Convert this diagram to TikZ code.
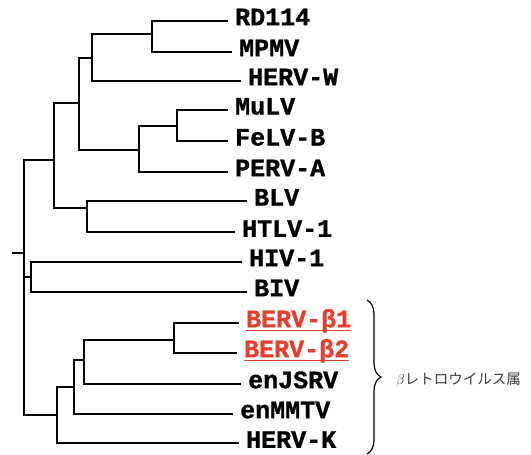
\documentclass[tikz,border=0pt]{standalone}
\usepackage{fontspec}
\setmonofont[BoldFeatures={FakeBold=1.2}]{Liberation Mono}
\newfontfamily\cjk{Noto Sans CJK JP}
\usetikzlibrary{decorations.pathreplacing}
\definecolor{berv}{RGB}{228,62,44}
\definecolor{grp}{RGB}{60,60,60}
\begin{document}
\begin{tikzpicture}[x=1pt,y=-1pt,
  branch/.style={line width=1.9pt, line join=miter},
  taxon/.style={anchor=base west, inner sep=0pt, font=\fontsize{25}{30}\selectfont\ttfamily\bfseries},
  hl/.style={taxon, text=berv},
  uline/.style={draw=berv, line width=1.4pt}]
\useasboundingbox (0,0) rectangle (531,455);
% leaves (end of branch)
\coordinate (l1) at (228,20.7);
\coordinate (l2) at (232,51.7);
\coordinate (l3) at (241,80.7);
\coordinate (l4) at (228,110);
\coordinate (l5) at (228,141);
\coordinate (l6) at (228,171.7);
\coordinate (l7) at (247,201);
\coordinate (l8) at (235,232.3);
\coordinate (l9) at (242,261.7);
\coordinate (l10) at (247,291.7);
\coordinate (l11) at (239,322.7);
\coordinate (l12) at (237,352.7);
\coordinate (l13) at (241,383.7);
\coordinate (l14) at (233,413.7);
\coordinate (l15) at (239,443.3);
% internal nodes
\coordinate (n1) at (152.3,34);
\coordinate (n2) at (91.7,58.3);
\coordinate (n3) at (177,126.3);
\coordinate (n4) at (139.3,150);
\coordinate (n5) at (79,103.3);
\coordinate (n6) at (87.3,208.3);
\coordinate (n7) at (54.3,160);
\coordinate (n8) at (30.7,277.3);
\coordinate (n9) at (174.3,340);
\coordinate (n10) at (84.3,360);
\coordinate (n11) at (73.7,386.7);
\coordinate (n12) at (57.3,415);
\coordinate (root) at (24,253.3);
\coordinate (stub) at (11.7,253.3);
% branches
\draw[branch] (n1) |- (l1);
\draw[branch] (n1) |- (l2);
\draw[branch] (n2) |- (n1);
\draw[branch] (n2) |- (l3);
\draw[branch] (n3) |- (l4);
\draw[branch] (n3) |- (l5);
\draw[branch] (n4) |- (n3);
\draw[branch] (n4) |- (l6);
\draw[branch] (n5) |- (n2);
\draw[branch] (n5) |- (n4);
\draw[branch] (n6) |- (l7);
\draw[branch] (n6) |- (l8);
\draw[branch] (n7) |- (n5);
\draw[branch] (n7) |- (n6);
\draw[branch] (n8) |- (l9);
\draw[branch] (n8) |- (l10);
\draw[branch] (n9) |- (l11);
\draw[branch] (n9) |- (l12);
\draw[branch] (n10) |- (n9);
\draw[branch] (n10) |- (l13);
\draw[branch] (n11) |- (n10);
\draw[branch] (n11) |- (l14);
\draw[branch] (n12) |- (n11);
\draw[branch] (n12) |- (l15);
\draw[branch] (root) |- (n7);
\draw[branch] (root) |- (n8);
\draw[branch] (root) |- (n12);
\draw[branch] (stub) -- (root);
% labels
\node[taxon] (t1) at ([xshift=7pt,yshift=-4.5pt]l1) {RD114};
\node[taxon] (t2) at ([xshift=7pt,yshift=-4.5pt]l2) {MPMV};
\node[taxon] (t3) at ([xshift=7pt,yshift=-4.5pt]l3) {HERV-W};
\node[taxon] (t4) at ([xshift=7pt,yshift=-4.5pt]l4) {MuLV};
\node[taxon] (t5) at ([xshift=7pt,yshift=-4.5pt]l5) {FeLV-B};
\node[taxon] (t6) at ([xshift=7pt,yshift=-4.5pt]l6) {PERV-A};
\node[taxon] (t7) at ([xshift=7pt,yshift=-4.5pt]l7) {BLV};
\node[taxon] (t8) at ([xshift=7pt,yshift=-4.5pt]l8) {HTLV-1};
\node[taxon] (t9) at ([xshift=7pt,yshift=-4.5pt]l9) {HIV-1};
\node[taxon] (t10) at ([xshift=7pt,yshift=-4.5pt]l10) {BIV};
\node[hl] (t11) at ([xshift=7pt,yshift=-4.5pt]l11) {BERV-β1};
\node[hl] (t12) at ([xshift=7pt,yshift=-4.5pt]l12) {BERV-β2};
\node[taxon] (t13) at ([xshift=7pt,yshift=-4.5pt]l13) {enJSRV};
\node[taxon] (t14) at ([xshift=7pt,yshift=-4.5pt]l14) {enMMTV};
\node[taxon] (t15) at ([xshift=7pt,yshift=-4.5pt]l15) {HERV-K};
\draw[uline] ([yshift=-3pt]t11.base west) -- ([yshift=-3pt]t11.base east);
\draw[uline] ([yshift=-3pt]t12.base west) -- ([yshift=-3pt]t12.base east);
% brace and group label
\coordinate (bt) at (367,300);
\coordinate (bb) at (367,454);
\draw[line width=1.2pt, decorate, decoration={brace, amplitude=14pt}] (bt) -- (bb);
\node[anchor=west, inner sep=0pt, text=grp, font=\fontsize{14.5}{16}\selectfont\cjk] (grp) at (396,380) {$\beta$レトロウイルス属};
\end{tikzpicture}
\end{document}
